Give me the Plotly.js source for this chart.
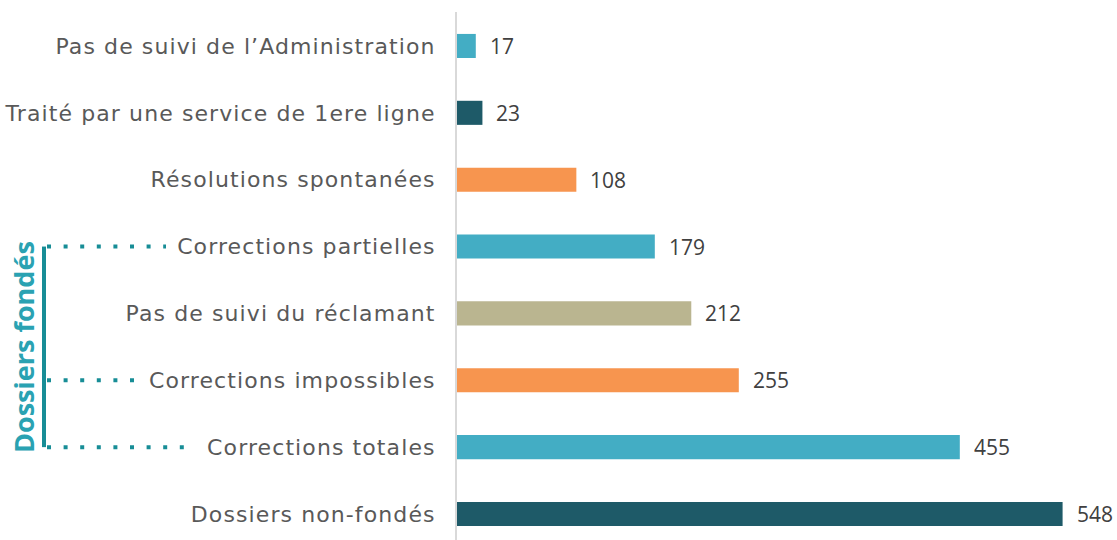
<!DOCTYPE html>
<html>
<head>
<meta charset="utf-8">
<script src="https://cdn.plot.ly/plotly-3.0.1.min.js"></script>
<style>
  html, body { margin: 0; padding: 0; background: #ffffff; }
  #chart { width: 1117px; height: 540px; }
  .ytick text { letter-spacing: 1.1px; }
</style>
</head>
<body>
<div id="chart"></div>
<script>
// Categories, top to bottom as in the picture
const categories = [
  "Pas de suivi de l\u2019Administration",
  "Traité par une service de 1ere ligne",
  "Résolutions spontanées",
  "Corrections partielles",
  "Pas de suivi du réclamant",
  "Corrections impossibles",
  "Corrections totales",
  "Dossiers non-fondés"
];
const values = [17, 23, 108, 179, 212, 255, 455, 548];
const barColors = ["#43ADC4", "#1E5A68", "#F7954F", "#43ADC4", "#BAB590", "#F7954F", "#43ADC4", "#1E5A68"];
const groupLabel = "Dossiers fondés";
const groupMembers = ["Corrections partielles", "Corrections impossibles", "Corrections totales"];

const W = 1117, H = 540;
const M = {l: 457, r: 8, t: 12, b: 0};
const plotW = W - M.l - M.r;
const plotH = H - M.t - M.b;
const px = p => (p - M.l) / plotW;        // pixel x -> paper x
const py = p => (H - M.b - p) / plotH;     // pixel y -> paper y

const trace = {
  type: "bar",
  orientation: "h",
  y: categories,
  x: values,
  width: 0.36,
  marker: {color: barColors},
  hoverinfo: "none"
};

const annotations = values.map((v, i) => ({
  x: v, y: categories[i], xref: "x", yref: "y",
  text: String(v), showarrow: false, xanchor: "left", yanchor: "middle",
  xshift: 12,
  font: {family: "Open Sans", size: 21, color: "#404040"}
}));

annotations.push({
  x: px(23), y: py(347), xref: "paper", yref: "paper",
  text: "<b>" + groupLabel + "</b>", textangle: -90, showarrow: false,
  xanchor: "center", yanchor: "middle",
  font: {family: "Open Sans", size: 27, color: "#2AA2B2"}
});

const dotEnds = {"Corrections partielles": 166, "Corrections impossibles": 135, "Corrections totales": 196};
const shapes = [];
groupMembers.forEach(c => {
  shapes.push({
    type: "line", xref: "paper", yref: "y",
    x0: px(47), x1: px(dotEnds[c]), y0: c, y1: c,
    line: {color: "#178D96", width: 4, dash: "4px,12.6px"}
  });
});
shapes.push({
  type: "line", xref: "paper", yref: "y",
  x0: px(44), x1: px(44), y0: groupMembers[0], y1: groupMembers[2],
  line: {color: "#178D96", width: 4}
});

const layout = {
  width: W, height: H,
  margin: M,
  paper_bgcolor: "#ffffff",
  plot_bgcolor: "#ffffff",
  showlegend: false,
  xaxis: {
    range: [0, 590], showgrid: false, zeroline: false, showline: false,
    showticklabels: false, ticks: "", fixedrange: true
  },
  yaxis: {
    type: "category",
    range: [7.389, -0.508],
    showgrid: false, zeroline: false,
    showline: true, linecolor: "#D9D9D9", linewidth: 2,
    ticks: "", ticklabelstandoff: 15,
    tickfont: {family: "DejaVu Sans", size: 22, color: "#595959"},
    fixedrange: true
  },
  annotations: annotations,
  shapes: shapes
};

Plotly.newPlot("chart", [trace], layout, {displayModeBar: false, staticPlot: true});
</script>
</body>
</html>
